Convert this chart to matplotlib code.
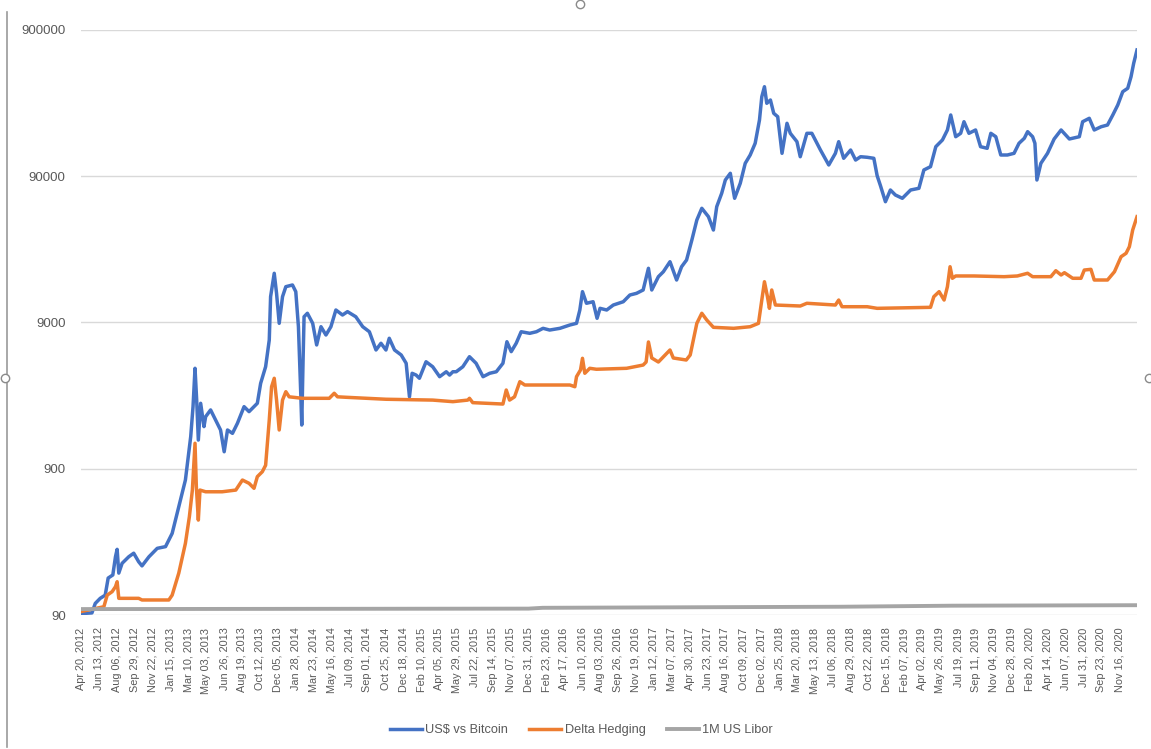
import matplotlib
matplotlib.use("Agg")
import matplotlib.pyplot as plt
import matplotlib.ticker as mticker
from matplotlib.lines import Line2D
import pandas as pd

# ---------------- data ----------------
blue_dates = [
    "2012-04-20", "2012-05-23", "2012-06-02", "2012-06-17", "2012-07-02", "2012-07-11", "2012-07-25",
    "2012-08-02", "2012-08-07", "2012-08-12", "2012-08-22", "2012-09-11", "2012-09-26", "2012-10-11",
    "2012-10-21", "2012-11-11", "2012-12-06", "2012-12-31", "2013-01-20", "2013-02-09", "2013-03-01",
    "2013-03-17", "2013-03-24", "2013-03-30", "2013-04-04", "2013-04-09", "2013-04-16", "2013-04-26",
    "2013-05-01", "2013-05-16", "2013-05-31", "2013-06-15", "2013-06-26", "2013-07-06", "2013-07-21",
    "2013-08-05", "2013-08-25", "2013-09-09", "2013-09-24", "2013-10-04", "2013-10-14", "2013-10-29",
    "2013-11-09", "2013-11-13", "2013-11-24", "2013-12-01", "2013-12-09", "2013-12-19", "2013-12-29",
    "2014-01-18", "2014-01-28", "2014-02-05", "2014-02-12", "2014-02-15", "2014-02-19", "2014-02-22",
    "2014-03-04", "2014-03-20", "2014-04-01", "2014-04-14", "2014-04-29", "2014-05-14", "2014-05-29",
    "2014-06-18", "2014-07-03", "2014-07-28", "2014-08-18", "2014-09-07", "2014-09-27", "2014-10-12",
    "2014-10-27", "2014-11-06", "2014-11-22", "2014-12-12", "2014-12-27", "2015-01-06", "2015-01-14",
    "2015-01-26", "2015-02-05", "2015-02-25", "2015-03-17", "2015-04-07", "2015-04-27", "2015-05-07",
    "2015-05-17", "2015-05-27", "2015-06-16", "2015-07-06", "2015-07-26", "2015-08-16", "2015-09-05",
    "2015-09-25", "2015-10-15", "2015-10-27", "2015-11-09", "2015-11-24", "2015-12-09", "2016-01-04",
    "2016-01-24", "2016-02-13", "2016-03-04", "2016-04-04", "2016-05-04", "2016-05-24", "2016-06-03",
    "2016-06-11", "2016-06-23", "2016-07-13", "2016-07-25", "2016-08-03", "2016-08-23", "2016-09-12",
    "2016-10-12", "2016-11-01", "2016-11-21", "2016-12-11", "2016-12-27", "2017-01-06", "2017-01-26",
    "2017-02-10", "2017-03-02", "2017-03-22", "2017-04-06", "2017-04-21", "2017-05-07", "2017-05-22",
    "2017-06-06", "2017-06-26", "2017-07-11", "2017-07-21", "2017-08-05", "2017-08-16", "2017-08-31",
    "2017-09-13", "2017-09-30", "2017-10-15", "2017-10-30", "2017-11-14", "2017-11-27", "2017-12-04",
    "2017-12-12", "2017-12-19", "2017-12-30", "2018-01-09", "2018-01-21", "2018-02-03", "2018-02-18",
    "2018-02-28", "2018-03-20", "2018-03-30", "2018-04-19", "2018-05-04", "2018-05-30", "2018-06-24",
    "2018-07-14", "2018-07-24", "2018-08-08", "2018-08-29", "2018-09-13", "2018-09-28", "2018-10-18",
    "2018-11-07", "2018-11-17", "2018-11-27", "2018-12-12", "2018-12-27", "2019-01-11", "2019-02-01",
    "2019-02-26", "2019-03-23", "2019-04-07", "2019-04-27", "2019-05-13", "2019-06-02", "2019-06-17",
    "2019-06-27", "2019-07-12", "2019-07-27", "2019-08-06", "2019-08-21", "2019-09-10", "2019-09-25",
    "2019-10-15", "2019-10-26", "2019-11-10", "2019-11-25", "2019-12-15", "2020-01-04", "2020-01-19",
    "2020-02-04", "2020-02-14", "2020-02-29", "2020-03-07", "2020-03-13", "2020-03-25", "2020-04-14",
    "2020-05-04", "2020-05-25", "2020-06-19", "2020-07-19", "2020-07-29", "2020-08-18", "2020-09-02",
    "2020-09-23", "2020-10-12", "2020-10-28", "2020-11-12", "2020-11-27", "2020-12-12", "2020-12-22",
    "2020-12-30", "2021-01-09",
]
blue_values = [
    92, 93, 108, 117, 123, 161, 169,
    225, 253, 174, 203, 225, 238, 208,
    195, 225, 257, 264, 325, 495, 753,
    1490, 2390, 4370, 2650, 1413, 2520, 1745,
    2040, 2270, 1935, 1655, 1175, 1655, 1570,
    1840, 2390, 2210, 2390, 2520, 3450, 4480,
    6820, 13490, 19500, 14220, 8870, 13490, 15790,
    16220, 14600, 8410, 2950, 1790, 4980, 9840,
    10390, 8870, 6310, 8410, 7380, 8410, 10940,
    10110, 10660, 9840, 8410, 7770, 5830, 6480,
    5830, 7010, 5830, 5390, 4730, 2790, 4040,
    3930, 3735, 4845, 4480, 3830, 4140, 3930,
    4140, 4140, 4480, 5245, 4730, 3830, 4040,
    4140, 4730, 6640, 5680, 6480, 7770, 7580,
    7770, 8200, 7980, 8200, 8640, 8870, 10940,
    14600, 12160, 12460, 9600, 11230, 10940, 11830,
    12460, 13850, 14220, 14990, 21090, 14990, 18480,
    19980, 23400, 17540, 21620, 24030, 32920, 45090,
    54230, 47510, 38520, 55610, 68660, 84630, 94050,
    63460, 80360, 110070, 125460, 150840, 217530, 313900,
    367500, 283000, 298200, 241800, 229200, 128800, 206600,
    176500, 154700, 122100, 176500, 176500, 135700, 107200,
    128800, 154700, 119100, 135700, 115900, 122100, 121000,
    119100, 90560, 77390, 60150, 72320, 66850, 63460,
    72320, 74280, 99100, 104400, 143000, 158900, 186000,
    235500, 167300, 176500, 211800, 176500, 186000, 143000,
    139400, 176500, 167300, 125460, 125460, 128800, 150840,
    163200, 181100, 167300, 150840, 84630, 110070, 128800,
    161400, 186000, 161400, 167300, 211800, 223500, 186000,
    195800, 201100, 235500, 275600, 339800, 358400, 430100,
    531200, 655000,
]

orange_dates = [
    "2012-04-20", "2012-06-28", "2012-07-08", "2012-07-23", "2012-08-02", "2012-08-07", "2012-08-12",
    "2012-10-11", "2012-10-21", "2013-01-10", "2013-01-20", "2013-02-09", "2013-03-01", "2013-03-13",
    "2013-03-22", "2013-03-30", "2013-04-03", "2013-04-09", "2013-04-14", "2013-05-01", "2013-06-20",
    "2013-07-31", "2013-08-20", "2013-09-09", "2013-09-24", "2013-10-04", "2013-10-19", "2013-10-29",
    "2013-11-09", "2013-11-16", "2013-11-24", "2013-12-01", "2013-12-09", "2013-12-19", "2013-12-29",
    "2014-01-08", "2014-02-17", "2014-05-09", "2014-05-24", "2014-06-03", "2014-06-28", "2014-10-27",
    "2015-03-17", "2015-05-17", "2015-07-01", "2015-07-06", "2015-07-16", "2015-10-15", "2015-10-25",
    "2015-11-04", "2015-11-19", "2015-12-05", "2015-12-20", "2016-05-04", "2016-05-19", "2016-05-24",
    "2016-06-05", "2016-06-11", "2016-06-18", "2016-07-03", "2016-07-23", "2016-10-22", "2016-12-11",
    "2016-12-20", "2016-12-27", "2017-01-06", "2017-01-26", "2017-03-02", "2017-03-12", "2017-04-20",
    "2017-05-02", "2017-05-22", "2017-06-06", "2017-06-21", "2017-07-11", "2017-09-10", "2017-10-30",
    "2017-11-24", "2017-12-04", "2017-12-12", "2017-12-21", "2017-12-27", "2018-01-03", "2018-01-14",
    "2018-03-30", "2018-04-19", "2018-07-14", "2018-07-24", "2018-08-03", "2018-10-18", "2018-11-17",
    "2019-04-27", "2019-05-07", "2019-05-23", "2019-06-07", "2019-06-17", "2019-06-25", "2019-07-02",
    "2019-07-12", "2019-09-05", "2019-12-05", "2020-01-14", "2020-02-14", "2020-02-29", "2020-04-24",
    "2020-05-09", "2020-05-25", "2020-06-04", "2020-06-29", "2020-07-24", "2020-08-03", "2020-08-23",
    "2020-09-02", "2020-10-12", "2020-11-02", "2020-11-22", "2020-12-07", "2020-12-17", "2020-12-27",
    "2021-01-09",
]
orange_values = [
    95, 102.5, 123, 130, 140.5, 152, 117,
    117, 114, 114, 123, 174, 278, 423,
    643, 1343, 678, 401, 643, 626, 626,
    643, 753, 715, 661, 794, 858, 950,
    1935, 3270, 3735, 2650, 1655, 2650, 3025,
    2790, 2725, 2725, 2950, 2790, 2770, 2685,
    2650, 2585, 2650, 2725, 2545, 2490, 3105,
    2650, 2790, 3540, 3360, 3360, 3270, 3830,
    4255, 5115, 4040, 4370, 4305, 4370, 4600,
    4825, 6615, 5140, 4825, 5830, 5140, 4980,
    5390, 8870, 10390, 9340, 8330, 8200, 8410,
    8870, 12800, 17070, 13490, 11230, 14990, 11830,
    11650, 12160, 11830, 12800, 11520, 11520, 11230,
    11410, 13490, 14600, 12800, 15790, 21620, 18020,
    18690, 18690, 18480, 18690, 19500, 18480, 18480,
    20300, 18980, 19680, 18020, 18020, 20520, 20750,
    17540, 17540, 19980, 25310, 26700, 29630, 38520,
    47510,
]

libor_dates = ["2012-04-20", "2015-12-31", "2016-02-12", "2018-08-01", "2019-07-01", "2021-01-09"]
libor_values = [98.8, 99.5, 100.8, 102.5, 104.2, 105.0]

series_names = ["US$ vs Bitcoin", "Delta Hedging", "1M US Libor"]
y_ticks = [90, 900, 9000, 90000, 900000]
x_tick_start = "2012-04-20"
x_tick_count = 59
x_tick_step_days = 54

# ---------------- styling ----------------
plt.rcParams["font.family"] = ["Liberation Sans", "DejaVu Sans"]
TXT = "#595959"
W, H = 1151, 749

fig = plt.figure(figsize=(W / 100, H / 100), dpi=100)
fig.patch.set_facecolor("white")

left, right, top, bottom = 81, 1137, 29.8, 615
ax = fig.add_axes([left / W, 1 - bottom / H, (right - left) / W, (bottom - top) / H])

bd = pd.to_datetime(blue_dates)
od = pd.to_datetime(orange_dates)
ld = pd.to_datetime(libor_dates)

ax.plot(bd, blue_values, color="#4472C4", lw=2.5, solid_joinstyle="round", zorder=3, label=series_names[0])
ax.plot(od, orange_values, color="#ED7D31", lw=2.5, solid_joinstyle="round", zorder=4, label=series_names[1])
ax.plot(ld, libor_values, color="#A5A5A5", lw=2.8, zorder=5, label=series_names[2])

ax.set_yscale("log")
ax.set_ylim(y_ticks[0], y_ticks[-1])
ax.yaxis.set_major_locator(mticker.FixedLocator(y_ticks))
ax.yaxis.set_minor_locator(mticker.NullLocator())
ax.set_yticklabels([str(v) for v in y_ticks])
ax.grid(axis="y", color="#d9d9d9", lw=1.0, zorder=0)
ax.set_axisbelow(True)

ax.set_xlim(pd.Timestamp(blue_dates[0]), pd.Timestamp(blue_dates[-1]))
xt = pd.date_range(x_tick_start, periods=x_tick_count, freq=f"{x_tick_step_days}D")
ax.set_xticks(xt)
ax.set_xticklabels([d.strftime("%b %d, %Y") for d in xt], rotation=90, ha="center", va="top",
                   fontsize=7.8, color=TXT, family=["Liberation Sans Narrow", "Liberation Sans", "DejaVu Sans"])
ax.xaxis.set_minor_locator(mticker.NullLocator())

for s in ax.spines.values():
    s.set_visible(False)
ax.tick_params(axis="both", length=0)
ax.tick_params(axis="y", labelsize=9.5, labelcolor=TXT, pad=11)
ax.tick_params(axis="x", pad=9)

leg = fig.legend(loc="center", bbox_to_anchor=(0.505, 1 - 730 / H), ncol=3, frameon=False,
                 fontsize=9.2, handlelength=2.5, handletextpad=0.25, columnspacing=1.7)
for t in leg.get_texts():
    t.set_color(TXT)

# chart-frame remnants of the screenshot (border and handles)
fig.add_artist(Line2D([7 / W, 7 / W], [1 - 12 / H, 1 - 747 / H], color="#9a9a9a", lw=1.2))
for (hx, hy) in [(580, 4), (5, 378), (1149, 378)]:
    fig.add_artist(Line2D([hx / W], [1 - hy / H], marker="o", ms=6, mfc="white", mec="#8a8a8a", mew=1.0))

fig.savefig("out.png", dpi=100)
